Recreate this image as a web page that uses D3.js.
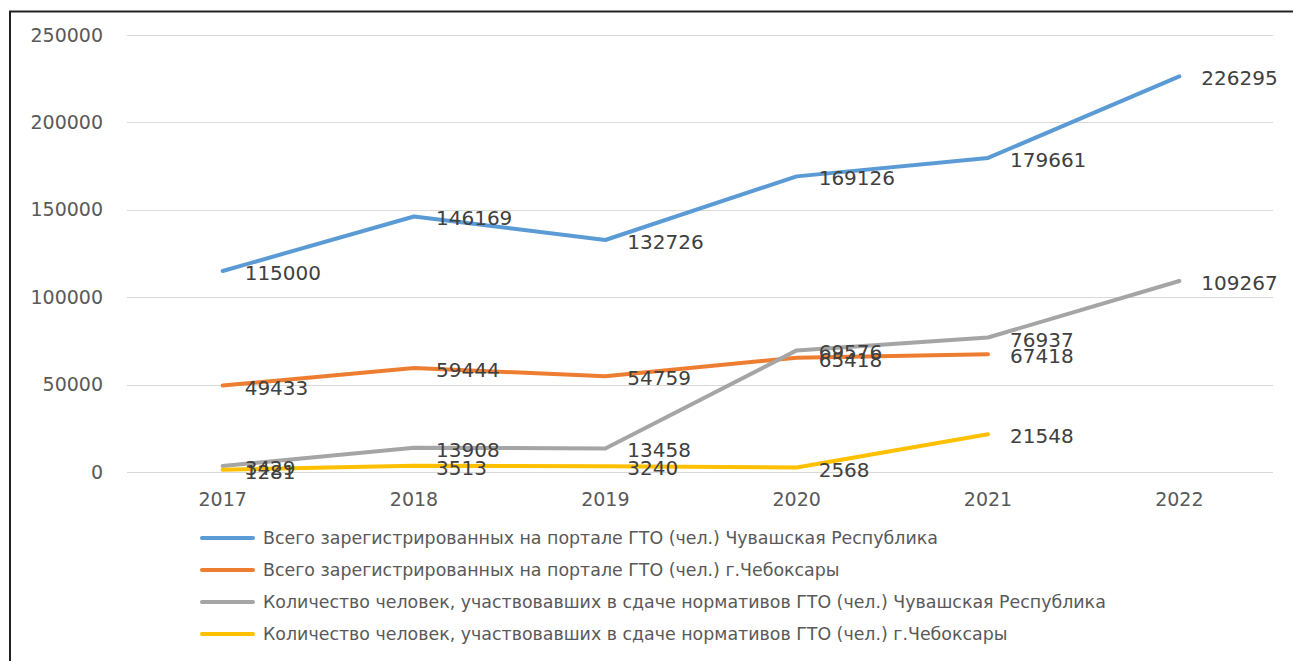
<!DOCTYPE html>
<html>
<head>
<meta charset="utf-8">
<script src="https://cdn.jsdelivr.net/npm/d3@7"></script>
<style>
  body { margin: 0; background: #fff; }
  svg { display: block; font-family: "DejaVu Sans", "Noto Sans", sans-serif; }
</style>
</head>
<body>
<div id="chart"></div>
<script>
const years = ['2017', '2018', '2019', '2020', '2021', '2022'];
const regTotal = [115000, 146169, 132726, 169126, 179661, 226295];
const regCity = [49433, 59444, 54759, 65418, 67418, null];
const passTotal = [3429, 13908, 13458, 69576, 76937, 109267];
const passCity = [1281, 3513, 3240, 2568, 21548, null];
const yTicks = [0, 50000, 100000, 150000, 200000, 250000];
const seriesNames = [
	'Всего зарегистрированных на портале ГТО (чел.) Чувашская Республика',
	'Всего зарегистрированных на портале ГТО (чел.) г.Чебоксары',
	'Количество человек, участвовавших в сдаче нормативов ГТО (чел.) Чувашская Республика',
	'Количество человек, участвовавших в сдаче нормативов ГТО (чел.) г.Чебоксары'
];
const colors = ['#5B9BD5', '#ED7D31', '#A5A5A5', '#FFC000'];

const width = 1293;
const height = 661;
const series = [regTotal, regCity, passTotal, passCity];

const svg = d3.select('#chart')
	.append('svg')
	.attr('width', width)
	.attr('height', height);

// frame
svg.append('path')
	.attr('d', `M10,${height} V11.5 H${width}`)
	.attr('fill', 'none')
	.attr('stroke', '#222')
	.attr('stroke-width', 2);

const x = d3.scaleBand()
	.domain(years)
	.range([127, 1275]);

const y = d3.scaleLinear()
	.domain([0, 250000])
	.range([472, 35]);

// grid
svg.append('g')
	.selectAll('line')
	.data(yTicks)
	.enter().append('line')
	.attr('x1', 127)
	.attr('x2', 1273)
	.attr('y1', d => Math.round(y(d)) + 0.5)
	.attr('y2', d => Math.round(y(d)) + 0.5)
	.attr('stroke', '#d9d9d9')
	.attr('stroke-width', 1);

// y axis labels
svg.append('g')
	.selectAll('text')
	.data(yTicks)
	.enter().append('text')
	.attr('x', 103)
	.attr('y', d => y(d))
	.attr('dy', '0.35em')
	.attr('text-anchor', 'end')
	.attr('fill', '#595959')
	.attr('font-size', '19px')
	.text(d => d);

// x axis labels
svg.append('g')
	.selectAll('text')
	.data(years)
	.enter().append('text')
	.attr('x', d => x(d) + x.bandwidth() / 2)
	.attr('y', 499)
	.attr('dy', '0.35em')
	.attr('text-anchor', 'middle')
	.attr('fill', '#595959')
	.attr('font-size', '19px')
	.text(d => d);

const line = d3.line()
	.defined(d => d.v !== null)
	.x(d => x(d.year) + x.bandwidth() / 2)
	.y(d => y(d.v));

series.forEach((vals, i) => {
	const pts = years.map((yr, j) => ({ year: yr, v: vals[j] }));
	svg.append('path')
		.datum(pts)
		.attr('fill', 'none')
		.attr('stroke', colors[i])
		.attr('stroke-width', 4)
		.attr('stroke-linejoin', 'round')
		.attr('stroke-linecap', 'round')
		.attr('d', line);
});

// data labels (overlaps kept as in the source chart)
series.forEach((vals, i) => {
	const pts = years.map((yr, j) => ({ year: yr, v: vals[j] })).filter(d => d.v !== null);
	svg.append('g')
		.selectAll('text')
		.data(pts)
		.enter().append('text')
		.attr('x', d => x(d.year) + x.bandwidth() / 2 + 22)
		.attr('y', d => y(d.v) + 2)
		.attr('dy', '0.35em')
		.attr('fill', '#404040')
		.attr('font-size', '20px')
		.text(d => d.v);
});

// legend
const legend = svg.append('g')
	.selectAll('g')
	.data(seriesNames)
	.enter().append('g')
	.attr('transform', (d, i) => `translate(0,${538 + i * 32})`);

legend.append('line')
	.attr('x1', 202)
	.attr('x2', 253)
	.attr('stroke', (d, i) => colors[i])
	.attr('stroke-width', 4)
	.attr('stroke-linecap', 'round');

legend.append('text')
	.attr('x', 263)
	.attr('dy', '0.35em')
	.attr('fill', '#595959')
	.attr('font-size', '17.4px')
	.text(d => d);
</script>
</body>
</html>
